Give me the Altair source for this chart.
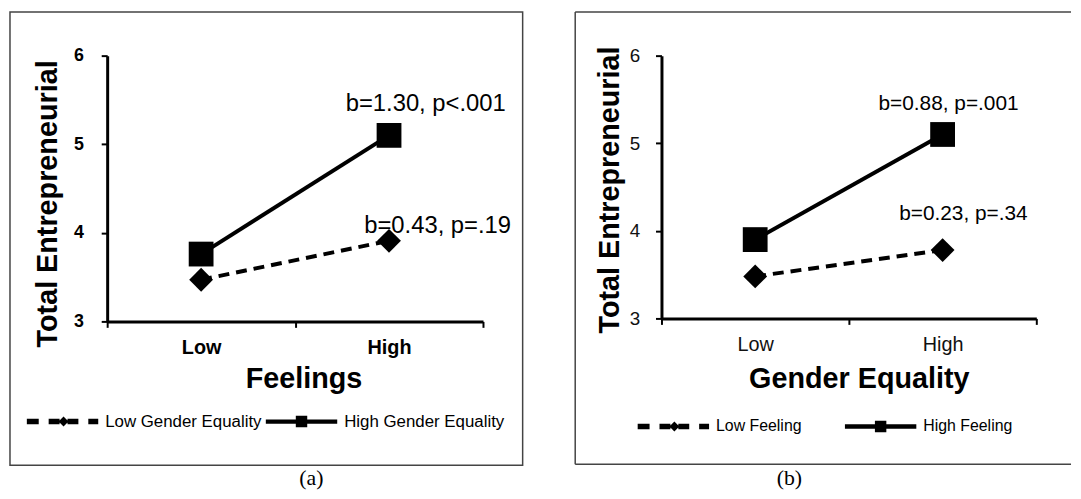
import altair as alt
import pandas as pd

FONT = "Liberation Sans"
SERIF = "Liberation Serif"

levels = ["Low", "High"]

# ---- Panel (a): x = Feelings, series = Gender Equality
a_series = ["Low Gender Equality", "High Gender Equality"]
a_low_series = [3.47, 3.91]
a_high_series = [3.76, 5.10]
a_ann_text = ["b=1.30, p<.001", "b=0.43, p=.19"]
a_ann_y = [5.38, 4.00]

# ---- Panel (b): x = Gender Equality, series = Feeling
b_series = ["Low Feeling", "High Feeling"]
b_low_series = [3.48, 3.78]
b_high_series = [3.90, 5.10]
b_ann_text = ["b=0.88, p=.001", "b=0.23, p=.34"]
b_ann_y = [5.38, 4.12]

y_ticks = [3, 4, 5, 6]

# legend symbols: line + marker, drawn as custom SVG paths in the unit square
DASHED_SYM = ("M-1,-0.075H-0.667V0.075H-1Z M-0.389,-0.075H-0.083V0.075H-0.389Z "
              "M-0.111,0L0.028,-0.139L0.167,0L0.028,0.139Z "
              "M0.139,-0.075H0.444V0.075H0.139Z M0.722,-0.075H1V0.075H0.722Z")
SOLID_SYM = "M-1,-0.06H1V0.06H-1Z M-0.16,-0.16H0.16V0.16H-0.16Z"


def make_panel(series, low_vals, high_vals, ann_text, ann_y, ann_dx, ann_fs,
               xtitle, W, H, bold, ytitle_xy, xtitle_xy, tick_fs, tick_pad,
               leg_xy, leg_fs, leg_colpad, box, caption, caption_x):
    df = pd.DataFrame({
        "level": levels * 2,
        "value": list(low_vals) + list(high_vals),
        "series": [series[0]] * 2 + [series[1]] * 2,
    })
    weight = "bold" if bold else "normal"
    lab_col = "black" if bold else "#111"
    xscale = alt.Scale(type="band", domain=levels, paddingInner=0, paddingOuter=0)
    yscale = alt.Scale(domain=[3, 6], nice=False, zero=False)

    x_axis = alt.Axis(
        grid=False, labelAngle=0, tickBand="extent",
        domainColor="black", domainWidth=3, tickColor="black", tickWidth=2, tickSize=6,
        labelFont=FONT, labelFontSize=20, labelFontWeight=weight, labelColor=lab_col,
        labelPadding=10,
        title=xtitle, titleFont=FONT, titleFontSize=29, titleFontWeight="bold",
        titleColor="black", titleX=xtitle_xy[0], titleY=xtitle_xy[1],
        titleBaseline="alphabetic", titleAlign="center",
    )
    y_axis = alt.Axis(
        grid=False, values=y_ticks, format="d", labelFlush=False,
        labelAlign="right", labelBaseline="middle",
        domainColor="black", domainWidth=3, tickColor="black", tickWidth=2, tickSize=6,
        labelFont=FONT, labelFontSize=tick_fs, labelFontWeight=weight, labelColor=lab_col,
        labelPadding=tick_pad,
        title="Total Entrepreneurial", titleFont=FONT, titleFontSize=29,
        titleFontWeight="bold", titleColor="black", titleAngle=270,
        titleX=ytitle_xy[0], titleY=ytitle_xy[1], titleBaseline="alphabetic",
        titleAlign="center",
    )
    X = alt.X("level:N", scale=xscale, axis=x_axis)
    Y = alt.Y("value:Q", scale=yscale, axis=y_axis)

    one = pd.DataFrame({"k": [0]})
    layers = list(box(one))

    line_low = alt.Chart(df).transform_filter(alt.datum.series == series[0]).mark_line(
        color="black", strokeWidth=4, strokeDash=[11, 7]).encode(x=X, y=Y)
    line_high = alt.Chart(df).transform_filter(alt.datum.series == series[1]).mark_line(
        color="black", strokeWidth=4).encode(x=X, y=Y)
    layers += [line_low, line_high]

    for t, yv, dx in zip(ann_text, ann_y, ann_dx):
        adf = pd.DataFrame({"level": ["High"], "value": [yv], "label": [t]})
        layers.append(
            alt.Chart(adf).mark_text(font=FONT, fontSize=ann_fs, align="center",
                                     baseline="alphabetic", dx=dx, color="black")
            .encode(x=X, y=Y, text="label:N")
        )

    diamonds = alt.Chart(df).transform_filter(alt.datum.series == series[0]).mark_point(
        shape="diamond", filled=True, color="black", size=576, opacity=1, strokeWidth=0
    ).encode(x=X, y=Y)
    squares = alt.Chart(df).transform_filter(alt.datum.series == series[1]).mark_point(
        shape="square", filled=True, color="black", size=625, opacity=1, strokeWidth=0
    ).encode(x=X, y=Y)
    layers += [diamonds, squares]

    legend_layer = alt.Chart(df).mark_point(
        filled=True, color="black", opacity=0, size=200, strokeWidth=0
    ).encode(
        x=X, y=Y,
        shape=alt.Shape("series:N",
                        scale=alt.Scale(domain=series, range=[DASHED_SYM, SOLID_SYM]),
                        legend=alt.Legend(
                            title=None, orient="none", legendX=leg_xy[0], legendY=leg_xy[1],
                            direction="horizontal", columns=2, padding=0,
                            symbolSize=5184, symbolOpacity=1, symbolFillColor="black",
                            symbolStrokeColor="black", symbolStrokeWidth=0,
                            labelFont=FONT, labelFontSize=leg_fs, labelColor="black",
                            labelOffset=7, labelLimit=400, columnPadding=leg_colpad,
                        )),
    )
    layers.append(legend_layer)

    cap = alt.Chart(one).mark_text(font=SERIF, fontSize=22, align="center",
                                   baseline="alphabetic", color="black").encode(
        x=alt.value(caption_x), y=alt.value(433), text=alt.value(caption))
    layers.append(cap)

    return alt.layer(*layers).properties(width=W, height=H)


def box_a(one):
    return [alt.Chart(one).mark_rect(filled=False, stroke="#444", strokeWidth=1.5).encode(
        x=alt.value(-98), x2=alt.value(419), y=alt.value(-44), y2=alt.value(413))]


def box_b(one):
    base = alt.Chart(one).mark_rule(stroke="#444", strokeWidth=1.5)
    return [
        base.encode(x=alt.value(-87), x2=alt.value(413), y=alt.value(-44)),
        base.encode(x=alt.value(-87), y=alt.value(-44), y2=alt.value(412)),
        base.encode(x=alt.value(-87), x2=alt.value(413), y=alt.value(412)),
    ]


panel_a = make_panel(
    a_series, a_low_series, a_high_series,
    a_ann_text, a_ann_y, [37, 49], 24,
    "Feelings", 379, 268, True, (-51, 149), (198, 67), 18, 18,
    (-81, 333), 17, 4, box_a, "(a)", 206,
)
panel_b = make_panel(
    b_series, b_low_series, b_high_series,
    b_ann_text, b_ann_y, [6, 21], 21,
    "Gender Equality", 378, 265, False, (-43, 135), (199, 70), 19, 16,
    (-24, 338), 16, 43, box_b, "(b)", 129,
)

chart = alt.hconcat(panel_a, panel_b, spacing=49).resolve_scale(
    x="independent", y="independent", shape="independent"
).resolve_legend(shape="independent").properties(
    padding=0
).configure_view(stroke="transparent")

chart.save("out.html", embed_options={"renderer": "svg", "actions": False})
